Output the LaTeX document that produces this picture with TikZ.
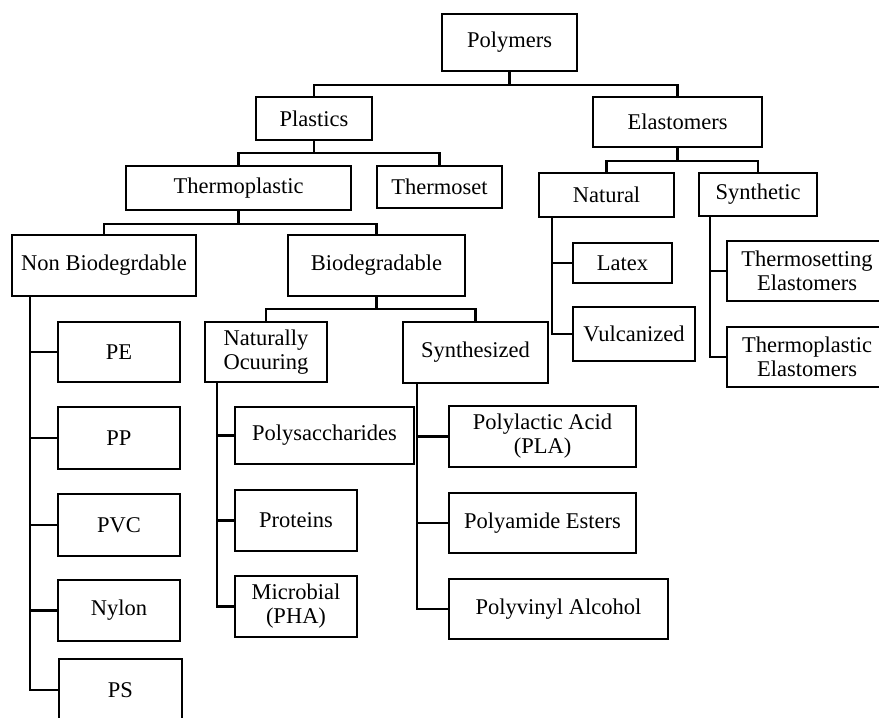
\documentclass[tikz,border=0pt]{standalone}
\usepackage{fontspec}
\setmainfont{Liberation Serif}
\begin{document}
\begin{tikzpicture}[x=1pt,y=-1pt,
  box/.style={draw, line width=2.3pt, inner sep=0pt, align=center,
    font=\fontsize{22.5}{24}\selectfont},
  link/.style={line width=2.3pt}]
\useasboundingbox (0,0) rectangle (879,718);
\fill[white] (0,0) rectangle (879,718);
\begin{scope}
\clip (0,0) rectangle (879,718);

% top levels
\node[box, minimum width=135, minimum height=57] (polymers) at (509.5,42.5) {Polymers};
\node[box, minimum width=116, minimum height=43] (plastics) at (314,118.5) {Plastics};
\node[box, minimum width=169, minimum height=50] (elastomers) at (677.5,122) {Elastomers};
\node[box, minimum width=225, minimum height=44] (thermoplastic) at (238.5,188) {Thermoplastic};
\node[box, minimum width=125, minimum height=42] (thermoset) at (439.5,187) {Thermoset};
\node[box, minimum width=184, minimum height=61] (nonbio) at (104,265.5) {Non Biodegrdable};
\node[box, minimum width=177, minimum height=61] (bio) at (376.5,265.5) {Biodegradable};
\node[box, minimum width=135, minimum height=44] (natural) at (606.5,195) {Natural};
\node[box, minimum width=118, minimum height=43] (synthetic) at (758,194.5) {Synthetic};

% elastomer leaves
\node[box, minimum width=99, minimum height=40] (latex) at (622.5,263) {Latex};
\node[box, minimum width=122, minimum height=54] (vulcanized) at (634,334) {Vulcanized};
\node[box, minimum width=160, minimum height=60] (tsetel) at (807,271) {Thermosetting\\Elastomers};
\node[box, minimum width=160, minimum height=60] (tplel) at (807,357) {Thermoplastic\\Elastomers};

% non-biodegradable leaves
\node[box, minimum width=122, minimum height=60] (pe) at (119,352) {PE};
\node[box, minimum width=122, minimum height=62] (pp) at (119,438) {PP};
\node[box, minimum width=122, minimum height=62] (pvc) at (119,525) {PVC};
\node[box, minimum width=122, minimum height=61] (nylon) at (119,610.5) {Nylon};
\node[box, minimum width=123, minimum height=62] (ps) at (120.5,690) {PS};

% biodegradable branches
\node[box, minimum width=122, minimum height=60] (natocc) at (266,352) {Naturally\\Ocuuring};
\node[box, minimum width=145, minimum height=61] (synthesized) at (475.5,352.5) {Synthesized};
\node[box, minimum width=179, minimum height=57] (polysac) at (324.5,435.5) {Polysaccharides};
\node[box, minimum width=122, minimum height=61] (proteins) at (296,520.5) {Proteins};
\node[box, minimum width=122, minimum height=61] (microbial) at (296,606.5) {Microbial\\(PHA)};
\node[box, minimum width=187, minimum height=61] (pla) at (542.5,436.5) {Polylactic Acid\\(PLA)};
\node[box, minimum width=187, minimum height=60] (polyamide) at (542.5,523) {Polyamide Esters};
\node[box, minimum width=219, minimum height=60] (pva) at (558.5,609) {Polyvinyl Alcohol};

% bracket connectors
\draw[link] (polymers.south) -- ++(0,13) coordinate (busA);
\draw[link] (plastics.north) |- (busA) -| (elastomers.north);
\draw[link] (plastics.south) -- ++(0,12) coordinate (busB);
\draw[link] (thermoplastic.north) |- (busB) -| (thermoset.north);
\draw[link] (thermoplastic.south) -- ++(0,13) coordinate (busC);
\draw[link] (nonbio.north) |- (busC) -| (bio.north);
\draw[link] (elastomers.south) -- ++(0,13) coordinate (busD);
\draw[link] (natural.north) |- (busD) -| (synthetic.north);
\draw[link] (bio.south) -- ++(0,12) coordinate (busE);
\draw[link] (natocc.north) |- (busE) -| (synthesized.north);

% side connectors
\draw[link] ([xshift=14pt]natural.south west) |- (latex.west);
\draw[link] ([xshift=14pt]natural.south west) |- (vulcanized.west);
\draw[link] ([xshift=12pt]synthetic.south west) |- (tsetel.west);
\draw[link] ([xshift=12pt]synthetic.south west) |- (tplel.west);
\foreach \n in {pe,pp,pvc,nylon,ps}
  \draw[link] ([xshift=19pt]nonbio.south west) |- (\n.west);
\foreach \n in {polysac,proteins,microbial}
  \draw[link] ([xshift=13pt]natocc.south west) |- (\n.west);
\foreach \n in {pla,polyamide,pva}
  \draw[link] ([xshift=15pt]synthesized.south west) |- (\n.west);
\end{scope}
\end{tikzpicture}
\end{document}
